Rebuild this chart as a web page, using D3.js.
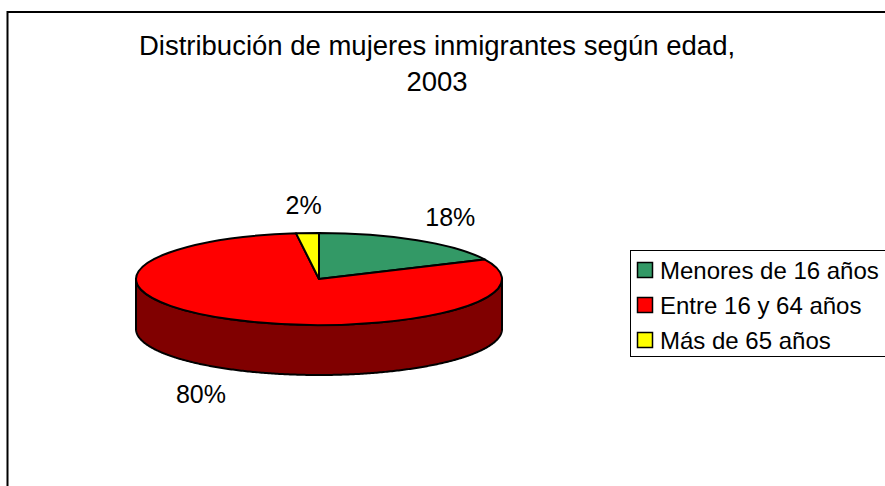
<!DOCTYPE html>
<html>
<head>
<meta charset="utf-8">
<script src="https://cdn.jsdelivr.net/npm/d3@7"></script>
<style>
  body { margin: 0; background: #fff; }
  svg text { font-family: "Liberation Sans", Arial, sans-serif; fill: #000; }
</style>
</head>
<body>
<svg id="chart"></svg>
<script>
const width = 885, height = 486;

// data
const categories = ["Menores de 16 años", "Entre 16 y 64 años", "Más de 65 años"];
const values = [18, 80, 2];
const topColors = ["#339966", "#ff0000", "#ffff00"];
const sideColors = ["#1a4d33", "#800000", "#808000"];
const titleLines = ["Distribución de mujeres inmigrantes según edad,", "2003"];

// pie geometry
const cx = 319, cy = 279, rx = 183, ry = 46, depth = 50;

const svg = d3.select("#chart")
    .attr("width", width)
    .attr("height", height);

// chart frame
svg.append("rect")
    .attr("x", 7.5).attr("y", 12)
    .attr("width", 950).attr("height", 550)
    .attr("fill", "#fff")
    .attr("stroke", "#000")
    .attr("stroke-width", 2);

// title
svg.append("g").selectAll("text")
    .data(titleLines)
    .join("text")
    .attr("x", 437)
    .attr("y", (d, i) => 55 + i * 36)
    .attr("text-anchor", "middle")
    .attr("font-size", 27.5)
    .text(d => d);

const total = d3.sum(values);
const pie = d3.pie().sort(null).value(d => d);
const arcs = pie(values);

const ex = t => cx + rx * Math.sin(t);
const ey = t => cy - ry * Math.cos(t);

const line = d3.line();

// side walls (only the front half, pi/2 .. 3pi/2, is visible)
function sidePath(d) {
    const a0 = Math.max(d.startAngle, Math.PI / 2);
    const a1 = Math.min(d.endAngle, 3 * Math.PI / 2);
    if (a0 >= a1) return null;
    const ts = d3.range(a0, a1, 0.01).concat([a1]);
    const topPts = ts.map(t => [ex(t), ey(t)]);
    const botPts = ts.slice().reverse().map(t => [ex(t), ey(t) + depth]);
    return line(topPts.concat(botPts)) + "Z";
}

svg.append("g").selectAll("path")
    .data(arcs.filter(d => sidePath(d)))
    .join("path")
    .attr("d", sidePath)
    .attr("fill", d => sideColors[d.index])
    .attr("stroke", "#000")
    .attr("stroke-width", 2)
    .attr("stroke-linejoin", "round");

// top faces
const arc = d3.arc().innerRadius(0).outerRadius(rx);
svg.append("g")
    .attr("transform", `translate(${cx},${cy}) scale(1,${ry / rx})`)
    .selectAll("path")
    .data(arcs)
    .join("path")
    .attr("d", arc)
    .attr("fill", d => topColors[d.index])
    .attr("stroke", "#000")
    .attr("stroke-width", 2)
    .attr("stroke-linejoin", "round")
    .attr("vector-effect", "non-scaling-stroke");

// percentage labels
const fmt = d3.format(".0%");
const lrx = 245, lry = 74;
svg.append("g").selectAll("text")
    .data(arcs)
    .join("text")
    .attr("x", d => {
        const m = (d.startAngle + d.endAngle) / 2;
        return cx + lrx * Math.sin(m);
    })
    .attr("y", d => {
        const m = (d.startAngle + d.endAngle) / 2;
        return cy - lry * Math.cos(m) + (Math.cos(m) < 0 ? depth : 0);
    })
    .attr("text-anchor", "middle")
    .attr("dominant-baseline", "central")
    .attr("font-size", 25)
    .text(d => fmt(d.value / total));

// legend
const legend = svg.append("g");
legend.append("rect")
    .attr("x", 630.5).attr("y", 250.5)
    .attr("width", 300).attr("height", 106)
    .attr("fill", "#fff")
    .attr("stroke", "#000")
    .attr("stroke-width", 1);

const rows = legend.selectAll("g")
    .data(categories)
    .join("g")
    .attr("transform", (d, i) => `translate(637, ${270 + i * 35})`);

rows.append("rect")
    .attr("x", 0.5).attr("y", -7.5)
    .attr("width", 15).attr("height", 15)
    .attr("fill", (d, i) => topColors[i])
    .attr("stroke", "#000")
    .attr("stroke-width", 1.5);

rows.append("text")
    .attr("x", 23)
    .attr("y", 0)
    .attr("dominant-baseline", "central")
    .attr("font-size", 24)
    .text(d => d);
</script>
</body>
</html>
